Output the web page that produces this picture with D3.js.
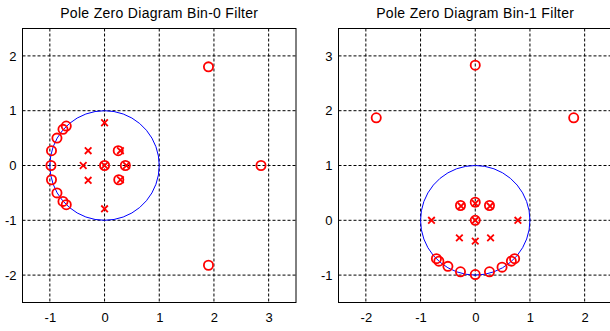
<!DOCTYPE html>
<html>
<head>
<meta charset="utf-8">
<script src="https://cdn.jsdelivr.net/npm/d3@7"></script>
<style>
  body { margin: 0; background: #fff; }
  svg { display: block; font-family: "Liberation Sans", Arial, Helvetica, sans-serif; }
</style>
</head>
<body>
<div id="chart"></div>
<script>
// Bin-0 filter: zeros (o) and poles (x), [real, imag]
const bin0Zeros = [
  [1.90, 1.80], [1.90, -1.82], [2.86, 0],
  [-0.70, 0.72], [-0.76, 0.66], [-0.87, 0.50], [-0.97, 0.27], [-0.98, 0],
  [-0.97, -0.26], [-0.87, -0.50], [-0.76, -0.655], [-0.70, -0.715],
  [0, 0], [0.25, 0.27], [0.38, 0], [0.26, -0.26]
];
const bin0Poles = [
  [0, 0.78], [0, -0.79], [-0.30, 0.27], [-0.39, 0], [-0.30, -0.27],
  [0, 0], [0.29, 0.27], [0.40, 0], [0.29, -0.26]
];

// Bin-1 filter
const bin1Zeros = [
  [0, 2.83], [-1.81, 1.87], [1.80, 1.87],
  [-0.27, 0.27], [0, 0.33], [0.26, 0.27], [0, 0],
  [-0.71, -0.70], [-0.665, -0.745], [-0.50, -0.84], [-0.27, -0.94], [0, -0.99],
  [0.26, -0.94], [0.49, -0.855], [0.66, -0.745], [0.72, -0.70]
];
const bin1Poles = [
  [-0.80, 0], [0.78, 0], [-0.29, -0.32], [0, -0.38], [0.28, -0.32],
  [-0.26, 0.26], [0, 0.31], [0.27, 0.26], [0, 0]
];

const bin0XTicks = [-1, 0, 1, 2, 3];
const bin0YTicks = [-2, -1, 0, 1, 2];
const bin1XTicks = [-2, -1, 0, 1, 2];
const bin1YTicks = [-1, 0, 1, 2, 3];

const width = 610, height = 331;

const svg = d3.select("#chart")
    .append("svg")
    .attr("width", width)
    .attr("height", height);

// draw one pole-zero panel
function drawPanel(opts) {
    const x = d3.scaleLinear().domain(opts.xDomain).range([opts.left, opts.right]);
    const y = d3.scaleLinear().domain(opts.yDomain).range([opts.bottom, opts.top]);
    const g = svg.append("g");

    // title
    g.append("text")
        .attr("x", (opts.left + opts.right) / 2)
        .attr("y", 18)
        .attr("text-anchor", "middle")
        .attr("font-size", 14)
        .attr("letter-spacing", 0.3)
        .attr("fill", "#000")
        .text(opts.title);

    // grid
    g.selectAll(".gx").data(opts.xTicks).enter().append("line")
        .attr("x1", d => x(d)).attr("x2", d => x(d))
        .attr("y1", opts.top).attr("y2", opts.bottom)
        .attr("stroke", "#000").attr("stroke-width", 1)
        .attr("stroke-dasharray", "3,2");
    g.selectAll(".gy").data(opts.yTicks).enter().append("line")
        .attr("y1", d => y(d)).attr("y2", d => y(d))
        .attr("x1", opts.left).attr("x2", opts.right)
        .attr("stroke", "#000").attr("stroke-width", 1)
        .attr("stroke-dasharray", "3,2");

    // axes
    const fmt = d => String(d);
    const xAxis = d3.axisBottom(x).tickValues(opts.xTicks).tickFormat(fmt).tickSize(0).tickPadding(10);
    const yAxis = d3.axisLeft(y).tickValues(opts.yTicks).tickFormat(fmt).tickSize(0).tickPadding(6);
    g.append("g").attr("transform", `translate(0,${opts.bottom})`).call(xAxis)
        .call(a => a.select(".domain").remove())
        .selectAll("text").attr("font-size", 13).attr("fill", "#000")
        .attr("font-family", "Liberation Sans, Arial, sans-serif");
    g.append("g").attr("transform", `translate(${opts.left},0)`).call(yAxis)
        .call(a => a.select(".domain").remove())
        .selectAll("text").attr("font-size", 13).attr("fill", "#000")
        .attr("font-family", "Liberation Sans, Arial, sans-serif");

    // unit circle
    const circ = d3.range(0, 361, 10).map(a => [Math.cos(a * Math.PI / 180), Math.sin(a * Math.PI / 180)]);
    g.append("path")
        .attr("d", d3.line().x(d => x(d[0])).y(d => y(d[1]))(circ))
        .attr("fill", "none").attr("stroke", "#0000ff").attr("stroke-width", 1);

    // zeros
    g.selectAll(".zero").data(opts.zeros).enter().append("circle")
        .attr("cx", d => x(d[0])).attr("cy", d => y(d[1]))
        .attr("r", 4.6)
        .attr("fill", "none").attr("stroke", "#ff0000").attr("stroke-width", 1.8);

    // poles
    const s = 3.3;
    g.selectAll(".pole").data(opts.poles).enter().append("path")
        .attr("d", d => {
            const px = x(d[0]), py = y(d[1]);
            return `M${px - s},${py - s}L${px + s},${py + s}M${px - s},${py + s}L${px + s},${py - s}`;
        })
        .attr("stroke", "#ff0000").attr("stroke-width", 1.8).attr("fill", "none");

    // box
    g.append("rect")
        .attr("x", opts.left).attr("y", opts.top)
        .attr("width", opts.right - opts.left).attr("height", opts.bottom - opts.top)
        .attr("fill", "none").attr("stroke", "#000").attr("stroke-width", 1);
}

drawPanel({
    title: "Pole Zero Diagram Bin-0 Filter",
    left: 22.5, right: 296, top: 28.5, bottom: 302.5,
    xDomain: [-1.5, 3.5], yDomain: [-2.5, 2.5],
    xTicks: bin0XTicks, yTicks: bin0YTicks,
    zeros: bin0Zeros, poles: bin0Poles
});

drawPanel({
    title: "Pole Zero Diagram Bin-1 Filter",
    left: 338.5, right: 612, top: 28.5, bottom: 302.5,
    xDomain: [-2.5, 2.5], yDomain: [-1.5, 3.5],
    xTicks: bin1XTicks, yTicks: bin1YTicks,
    zeros: bin1Zeros, poles: bin1Poles
});
</script>
</body>
</html>
